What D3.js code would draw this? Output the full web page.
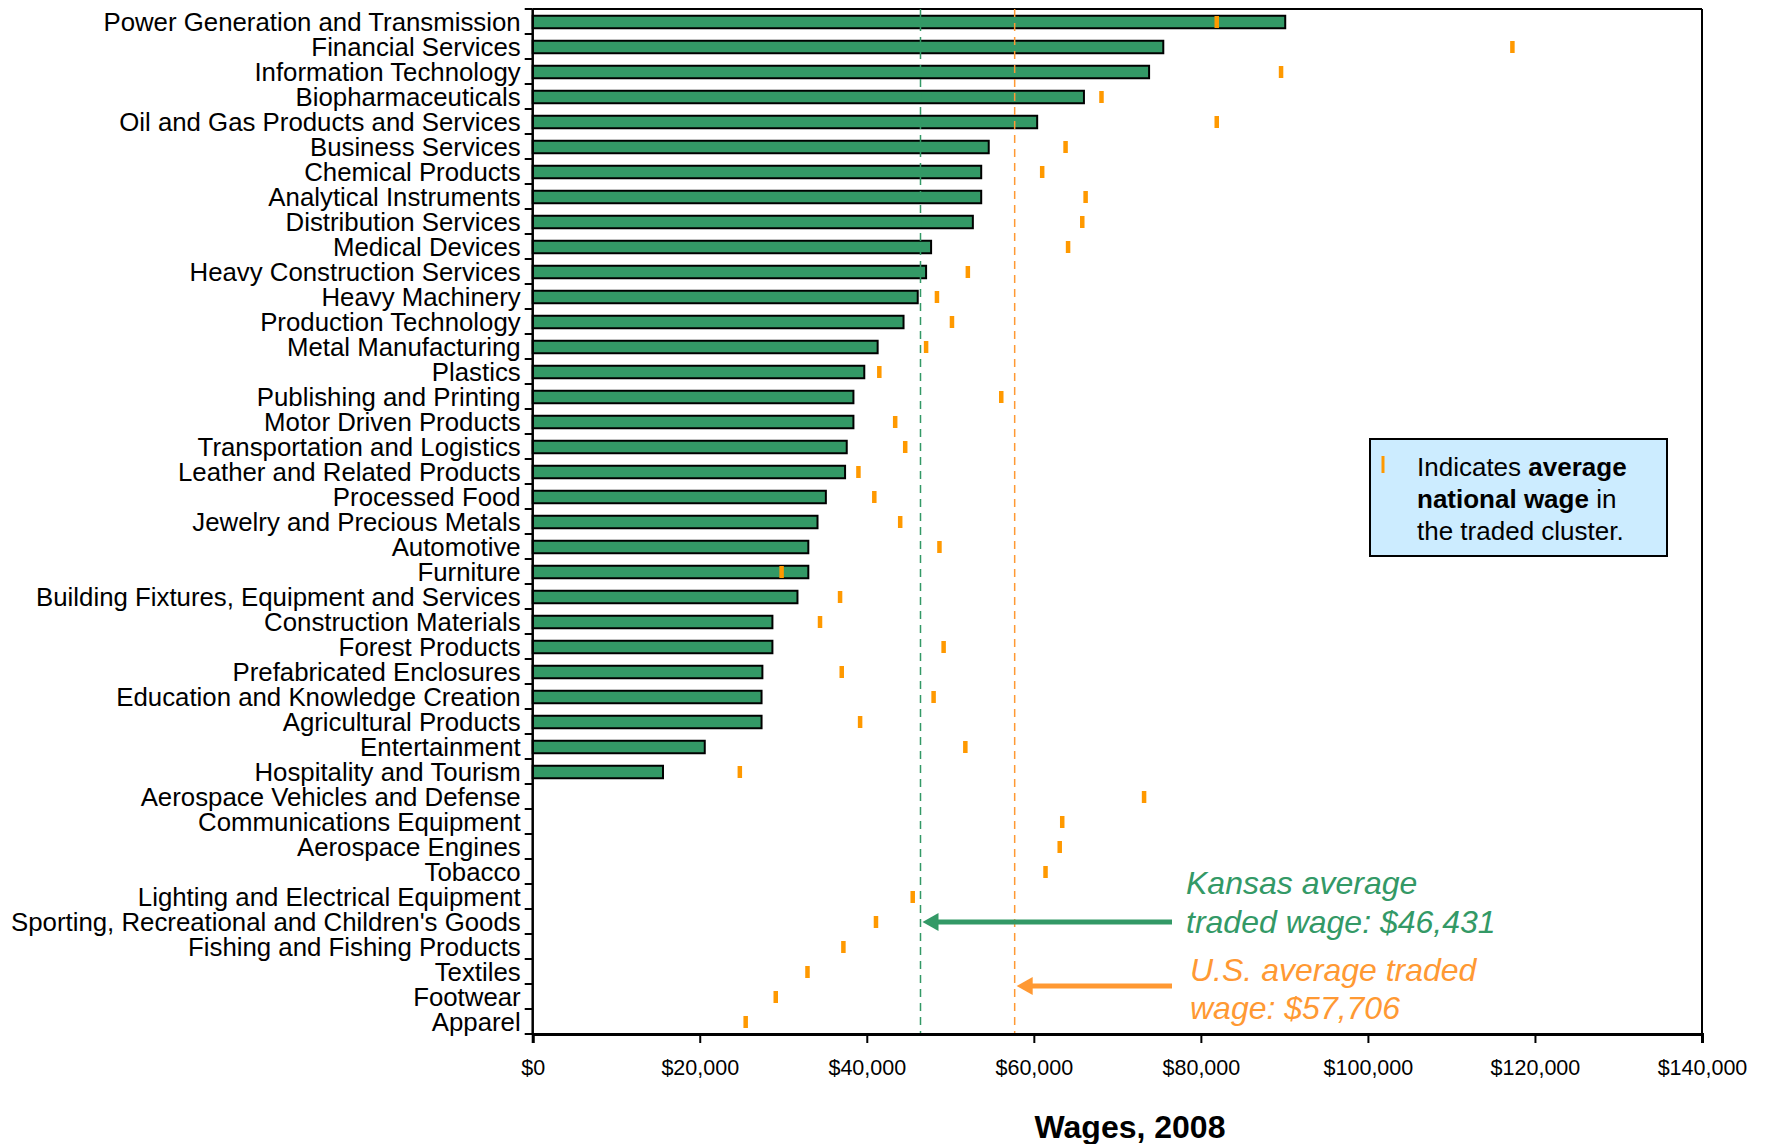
<!DOCTYPE html>
<html><head><meta charset="utf-8">
<script src="https://cdn.jsdelivr.net/npm/d3@7"></script>
<style>
html,body{margin:0;padding:0;background:#fff;}
svg text{font-family:"Liberation Sans",Arial,sans-serif;}
</style></head>
<body>
<svg id="chart" width="1766" height="1144"></svg>
<script>
const categories = [
"Power Generation and Transmission","Financial Services","Information Technology","Biopharmaceuticals",
"Oil and Gas Products and Services","Business Services","Chemical Products","Analytical Instruments",
"Distribution Services","Medical Devices","Heavy Construction Services","Heavy Machinery",
"Production Technology","Metal Manufacturing","Plastics","Publishing and Printing","Motor Driven Products",
"Transportation and Logistics","Leather and Related Products","Processed Food","Jewelry and Precious Metals",
"Automotive","Furniture","Building Fixtures, Equipment and Services","Construction Materials","Forest Products",
"Prefabricated Enclosures","Education and Knowledge Creation","Agricultural Products","Entertainment",
"Hospitality and Tourism","Aerospace Vehicles and Defense","Communications Equipment","Aerospace Engines",
"Tobacco","Lighting and Electrical Equipment","Sporting, Recreational and Children's Goods",
"Fishing and Fishing Products","Textiles","Footwear","Apparel"];

const kansasWages = [90100,75500,73800,66000,60400,54600,53700,53700,52700,47700,47100,46100,44400,41300,39700,
38400,38400,37600,37400,35100,34100,33000,33000,31700,28700,28700,27500,27400,27400,20600,15600,
null,null,null,null,null,null,null,null,null,null];

const nationalWages = [81900,117300,89600,68100,81900,63800,61000,66200,65800,64100,52100,48400,50200,47100,41500,
56100,43400,44600,39000,40900,44000,48700,29800,36800,34400,49200,37000,48000,39200,51800,24800,
73200,63400,63100,61400,45500,41100,37200,32900,29100,25500];

const xTicks = [0,20000,40000,60000,80000,100000,120000,140000];
const kansasAvg = 46431;
const usAvg = 57706;

const svg = d3.select("#chart");
const L = 532.7, R = 1702, T = 9, B = 1034;
const x = d3.scaleLinear().domain([0,140000]).range([L,R]);
const y = d3.scaleBand().domain(categories).range([T,B]).padding(0);
const bw = y.bandwidth();
const green = "#339966", orange = "#FF9900", orangeL = "#FF9933";

// frame top/right
svg.append("line").attr("x1",L).attr("x2",R).attr("y1",T).attr("y2",T).attr("stroke","#000").attr("stroke-width",2);
svg.append("line").attr("x1",R).attr("x2",R).attr("y1",T).attr("y2",B).attr("stroke","#000").attr("stroke-width",2);

// bars
const bh = bw*0.5;
svg.append("g").selectAll("rect").data(categories.map((c,i)=>({c,v:kansasWages[i]})).filter(d=>d.v!=null))
 .join("rect")
 .attr("x",x(0)).attr("y",d=>y(d.c)+bw/2-bh/2+0.5)
 .attr("width",d=>x(d.v)-x(0)).attr("height",bh)
 .attr("fill",green).attr("stroke","#000").attr("stroke-width",2);

// reference lines
svg.append("line").attr("x1",x(kansasAvg)).attr("x2",x(kansasAvg)).attr("y1",T).attr("y2",B)
 .attr("stroke",green).attr("stroke-width",1.5).attr("stroke-dasharray","8,6");
svg.append("line").attr("x1",x(usAvg)).attr("x2",x(usAvg)).attr("y1",T).attr("y2",B)
 .attr("stroke",orangeL).attr("stroke-width",1.5).attr("stroke-dasharray","8,6");

// national wage markers
const mh = 12, mw = 4.5;
svg.append("g").selectAll("rect").data(categories.map((c,i)=>({c,v:nationalWages[i]})))
 .join("rect")
 .attr("x",d=>x(d.v)-mw/2).attr("y",d=>y(d.c)+bw/2-mh/2+0.5)
 .attr("width",mw).attr("height",mh).attr("fill",orange);

// y axis
const yAxis = svg.append("g").attr("transform",`translate(${L},0)`);
yAxis.append("line").attr("x1",0).attr("x2",0).attr("y1",T).attr("y2",B).attr("stroke","#000").attr("stroke-width",2.5);
yAxis.selectAll("line.tk").data(d3.range(categories.length+1)).join("line").attr("class","tk")
 .attr("x1",-8).attr("x2",0).attr("y1",i=>T+i*bw).attr("y2",i=>T+i*bw).attr("stroke","#000").attr("stroke-width",2);
yAxis.selectAll("text").data(categories).join("text")
 .attr("x",-12).attr("y",d=>y(d)+bw/2+0.5).attr("dy","0.35em")
 .attr("text-anchor","end").attr("font-size",25.8).attr("fill","#000").text(d=>d);

// x axis
const xAxis = d3.axisBottom(x).tickValues(xTicks).tickSize(9).tickFormat(d=>"$"+d3.format(",")(d));
const gx = svg.append("g").attr("transform",`translate(0,${B})`).call(xAxis);
gx.select(".domain").attr("stroke","#000").attr("stroke-width",3);
gx.selectAll(".tick line").attr("stroke","#000").attr("stroke-width",2);
gx.selectAll(".tick text").attr("font-size",21.5).attr("fill","#000").attr("dy","1.35em")
 .attr("font-family","'Liberation Sans',Arial,sans-serif");

// axis title
svg.append("text").attr("x",1130).attr("y",1138).attr("text-anchor","middle")
 .attr("font-size",32).attr("font-weight","bold").attr("fill","#000").text("Wages, 2008");

// legend
const lg = svg.append("g");
lg.append("rect").attr("x",1370).attr("y",439).attr("width",297).attr("height",117)
 .attr("fill","#CCECFF").attr("stroke","#000").attr("stroke-width",2);
lg.append("rect").attr("x",1381.5).attr("y",456).attr("width",3).attr("height",17).attr("fill",orange);
const lt = lg.append("text").attr("font-size",26).attr("fill","#000");
const l1 = lt.append("tspan").attr("x",1417).attr("y",476);
l1.append("tspan").text("Indicates ");
l1.append("tspan").attr("font-weight","bold").text("average");
const l2 = lt.append("tspan").attr("x",1417).attr("y",508);
l2.append("tspan").attr("font-weight","bold").text("national wage");
l2.append("tspan").text(" in");
lt.append("tspan").attr("x",1417).attr("y",540).text("the traded cluster.");

// annotations
function arrow(x1,x2,yy,color){
  svg.append("line").attr("x1",x1).attr("x2",x2+12).attr("y1",yy).attr("y2",yy).attr("stroke",color).attr("stroke-width",5);
  svg.append("path").attr("d",`M${x2},${yy} L${x2+16},${yy-9} L${x2+16},${yy+9} Z`).attr("fill",color);
}
arrow(1172, x(kansasAvg)+2, 922, green);
arrow(1172, x(usAvg)+2, 986, orangeL);

svg.append("text").attr("x",1186).attr("y",894).attr("font-size",32).attr("font-style","italic").attr("fill",green).text("Kansas average");
svg.append("text").attr("x",1186).attr("y",933).attr("font-size",32).attr("font-style","italic").attr("fill",green).text("traded wage: $46,431");
svg.append("text").attr("x",1190).attr("y",981).attr("font-size",32).attr("font-style","italic").attr("fill",orangeL).text("U.S. average traded");
svg.append("text").attr("x",1190).attr("y",1019).attr("font-size",32).attr("font-style","italic").attr("fill",orangeL).text("wage: $57,706");
</script>
</body></html>
